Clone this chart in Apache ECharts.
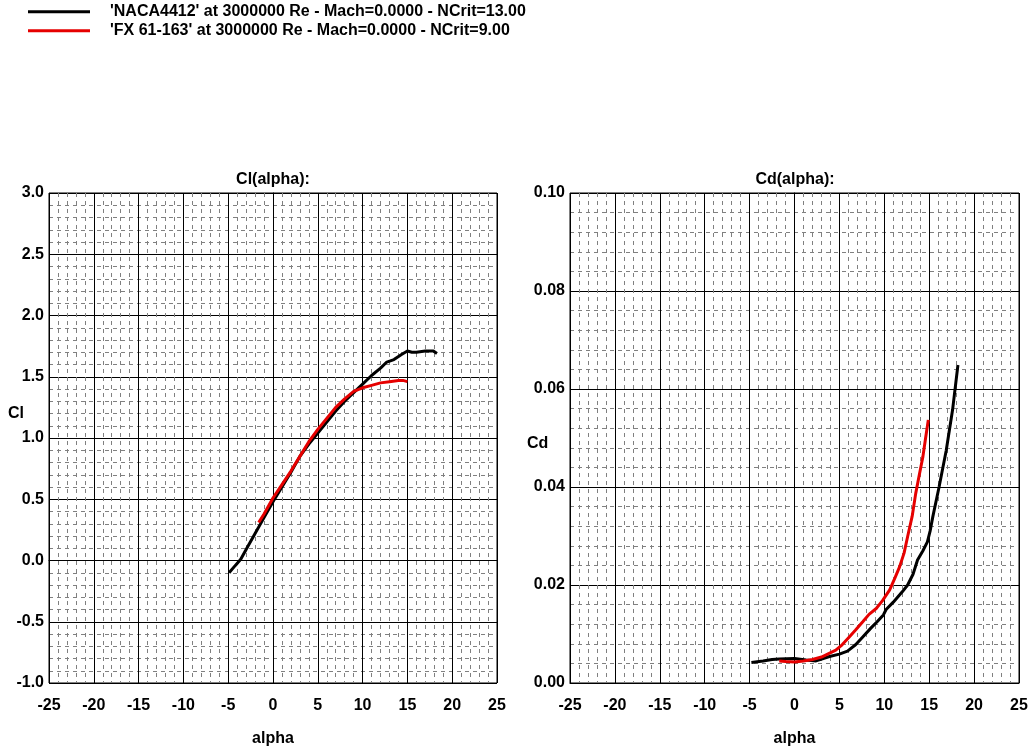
<html>
  <head>
    <title>Polars</title>
    <script src="https://cdn.jsdelivr.net/npm/echarts@6/dist/echarts.min.js"></script>
    <style>
      body { margin: 0; background: #fff; }
      #chart { width: 1035px; height: 747px; }
    </style>
  </head>
  <body>
    <div id="chart"></div>
    <script>
      // series names
      var nameNaca = "'NACA4412' at 3000000 Re - Mach=0.0000 - NCrit=13.00"
      var nameFx = "'FX 61-163' at 3000000 Re - Mach=0.0000 - NCrit=9.00"

      // Cl(alpha)
      var nacaClAlpha = [-4.9, -4.2, -3.6, -3, -2, -1, 0, 1, 2, 3, 4, 5, 6, 7, 8, 9, 10, 11, 12, 12.7, 13.5, 14.3, 15, 15.5, 16, 17, 17.9, 18.3]
      var nacaCl = [-0.10, -0.04, 0.01, 0.09, 0.22, 0.35, 0.48, 0.60, 0.72, 0.85, 0.95, 1.04, 1.13, 1.22, 1.30, 1.37, 1.44, 1.51, 1.57, 1.62, 1.64, 1.68, 1.71, 1.70, 1.70, 1.71, 1.71, 1.69]
      var fxClAlpha = [-1.6, -1, 0, 1, 2, 3, 4, 5, 6, 7, 8, 9, 10, 11, 12, 13, 14, 14.5, 15]
      var fxCl = [0.31, 0.38, 0.51, 0.62, 0.73, 0.85, 0.97, 1.07, 1.16, 1.25, 1.32, 1.38, 1.41, 1.43, 1.45, 1.46, 1.47, 1.47, 1.46]

      // Cd(alpha)
      var nacaCdAlpha = [-4.8, -3.5, -2.5, -1.7, 0, 1.3, 2.4, 3.2, 3.9, 5, 5.9, 6.8, 7.6, 8.5, 9.2, 9.9, 10.2, 11, 12, 12.6, 13.2, 13.7, 14.3, 14.8, 15.1, 15.4, 16.1, 16.9, 17.6, 18.2]
      var nacaCd = [0.0042, 0.0045, 0.0048, 0.0049, 0.0050, 0.0047, 0.0045, 0.0050, 0.0054, 0.0059, 0.0065, 0.0078, 0.0094, 0.0112, 0.0125, 0.0139, 0.0150, 0.0165, 0.0186, 0.0200, 0.0222, 0.0251, 0.0270, 0.0288, 0.0310, 0.0339, 0.0400, 0.0475, 0.0557, 0.0649]
      var fxCdAlpha = [-1.7, -1, 0, 1, 2, 3, 3.8, 4.6, 5.3, 6.1, 6.8, 7.6, 8.3, 9.1, 9.8, 10.6, 11.2, 11.7, 12.2, 12.6, 13.1, 13.5, 13.9, 14.3, 14.6, 14.9]
      var fxCd = [0.0045, 0.0044, 0.0043, 0.0045, 0.0048, 0.0053, 0.0060, 0.0067, 0.0078, 0.0094, 0.0108, 0.0125, 0.0140, 0.0152, 0.0168, 0.0190, 0.0215, 0.0237, 0.0265, 0.0299, 0.0340, 0.0387, 0.0425, 0.0462, 0.0500, 0.0537]

      var zip = function(xs, ys) {
        return xs.map(function(x, i) { return [x, ys[i]] })
      }

      var font = 'Liberation Sans, Arial, sans-serif'
      var labelStyle = { fontFamily: font, fontWeight: 'bold', fontSize: 16, color: '#000' }

      var makeX = function(idx) {
        return {
          type: 'value', gridIndex: idx, min: -25, max: 25, interval: 5,
          name: 'alpha', nameLocation: 'middle', nameGap: 42,
          nameTextStyle: labelStyle,
          axisLine: { lineStyle: { color: '#000', width: 1 } },
          axisTick: { show: false },
          axisLabel: Object.assign({ margin: 9 }, labelStyle),
          splitLine: { lineStyle: { color: '#000', width: 1 } },
          minorTick: { show: true, splitNumber: 5, length: 0 },
          minorSplitLine: { show: true, lineStyle: { color: '#808080', width: 1, type: [4, 4] } }
        }
      }
      var makeY = function(idx, min, max, step, digits) {
        return {
          type: 'value', gridIndex: idx, min: min, max: max, interval: step,
          axisLine: { show: true, lineStyle: { color: '#000', width: 1 } },
          axisTick: { show: false },
          axisLabel: Object.assign({ margin: 5, formatter: function(v) { return v.toFixed(digits) } }, labelStyle),
          splitLine: { lineStyle: { color: '#000', width: 1 } },
          minorTick: { show: true, splitNumber: 5, length: 0 },
          minorSplitLine: { show: true, lineStyle: { color: '#808080', width: 1, type: [4, 4] } }
        }
      }
      // one legend per row, so the row spacing is fixed
      var makeLegend = function(name, top) {
        return {
          left: 28, top: top, padding: 0,
          itemWidth: 62, itemHeight: 3, icon: 'rect',
          data: [name],
          textStyle: Object.assign({ padding: [0, 0, 0, 15] }, labelStyle)
        }
      }

      var myChart = echarts.init(document.getElementById('chart'))
      myChart.setOption({
        animation: false,
        color: ['#000000', '#e60000'],
        title: [
          { text: 'Cl(alpha):', left: 273, top: 166, padding: 0, textAlign: 'center', textStyle: labelStyle },
          { text: 'Cd(alpha):', left: 795, top: 166, padding: 0, textAlign: 'center', textStyle: labelStyle }
        ],
        legend: [makeLegend(nameNaca, -2), makeLegend(nameFx, 17)],
        graphic: [
          { type: 'text', left: 8, top: 400, style: { text: 'Cl', font: 'bold 16px ' + font, fill: '#000' } },
          { type: 'text', left: 527, top: 430, style: { text: 'Cd', font: 'bold 16px ' + font, fill: '#000' } }
        ],
        grid: [
          { left: 49, top: 193, width: 448, height: 490, show: true, borderColor: '#000', borderWidth: 1, outerBoundsMode: 'none', containLabel: false },
          { left: 570, top: 193, width: 449, height: 490, show: true, borderColor: '#000', borderWidth: 1, outerBoundsMode: 'none', containLabel: false }
        ],
        xAxis: [makeX(0), makeX(1)],
        yAxis: [makeY(0, -1, 3, 0.5, 1), makeY(1, 0, 0.1, 0.02, 2)],
        series: [
          { name: nameNaca, type: 'line', xAxisIndex: 0, yAxisIndex: 0, showSymbol: false, lineStyle: { width: 3, color: '#000' }, itemStyle: { color: '#000' }, data: zip(nacaClAlpha, nacaCl) },
          { name: nameFx, type: 'line', xAxisIndex: 0, yAxisIndex: 0, showSymbol: false, lineStyle: { width: 3, color: '#e60000' }, itemStyle: { color: '#e60000' }, data: zip(fxClAlpha, fxCl) },
          { name: nameNaca, type: 'line', xAxisIndex: 1, yAxisIndex: 1, showSymbol: false, lineStyle: { width: 3, color: '#000' }, itemStyle: { color: '#000' }, data: zip(nacaCdAlpha, nacaCd) },
          { name: nameFx, type: 'line', xAxisIndex: 1, yAxisIndex: 1, showSymbol: false, lineStyle: { width: 3, color: '#e60000' }, itemStyle: { color: '#e60000' }, data: zip(fxCdAlpha, fxCd) }
        ]
      })
    </script>
  </body>
</html>
